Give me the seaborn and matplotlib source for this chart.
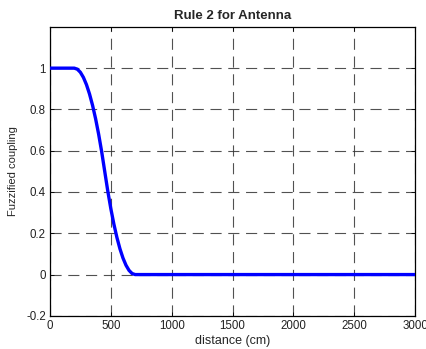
import numpy as np
import pandas as pd
import matplotlib
matplotlib.use("Agg")
import matplotlib.pyplot as plt
import seaborn as sns

# values
distance = [0, 100, 200, 225, 250, 275, 300, 325, 350, 375, 400, 425, 450,
            475, 500, 525, 550, 575, 600, 625, 650, 675, 700, 1000, 2000, 3000]
coupling = [1, 1, 1, 0.995, 0.98, 0.955, 0.92, 0.875, 0.82, 0.755, 0.68, 0.595, 0.5,
            0.405, 0.32, 0.245, 0.18, 0.125, 0.08, 0.045, 0.02, 0.005, 0, 0, 0, 0]

x_ticks = [0, 500, 1000, 1500, 2000, 2500, 3000]
y_ticks = [-0.2, 0, 0.2, 0.4, 0.6, 0.8, 1]
y_labels = ["-0.2", "0", "0.2", "0.4", "0.6", "0.8", "1"]

df = pd.DataFrame({"distance": distance, "coupling": coupling})

sns.set_style("ticks")
plt.rcParams["font.family"] = ["Liberation Sans", "DejaVu Sans"]
plt.rcParams["xtick.direction"] = "in"
plt.rcParams["ytick.direction"] = "in"

fig = plt.figure(figsize=(4.27, 3.49), dpi=100)
ax = fig.add_axes([0.117, 0.095, 0.855, 0.828])

sns.lineplot(data=df, x="distance", y="coupling", ax=ax, color="#0000ff",
             linewidth=2.4, zorder=3)

ax.set_xlim(0, 3000)
ax.set_ylim(-0.2, 1.2)
ax.set_xticks(x_ticks)
ax.set_yticks(y_ticks)
ax.set_yticklabels(y_labels)
ax.tick_params(labelsize=8.3, length=3, width=0.6, colors="black",
               labelcolor="#222222", top=True, right=True, pad=3)
ax.grid(True, color="#333333", linestyle=(0, (10, 6)), linewidth=0.8, alpha=0.85)
for s in ax.spines.values():
    s.set_linewidth(0.9)
    s.set_color("black")

ax.set_title("Rule 2 for Antenna", fontsize=9.5, fontweight="bold", pad=6)
ax.set_xlabel("distance (cm)", fontsize=9, labelpad=2)
ax.set_ylabel("Fuzzified coupling", fontsize=8, labelpad=6)

fig.savefig("out.png", dpi=100)
